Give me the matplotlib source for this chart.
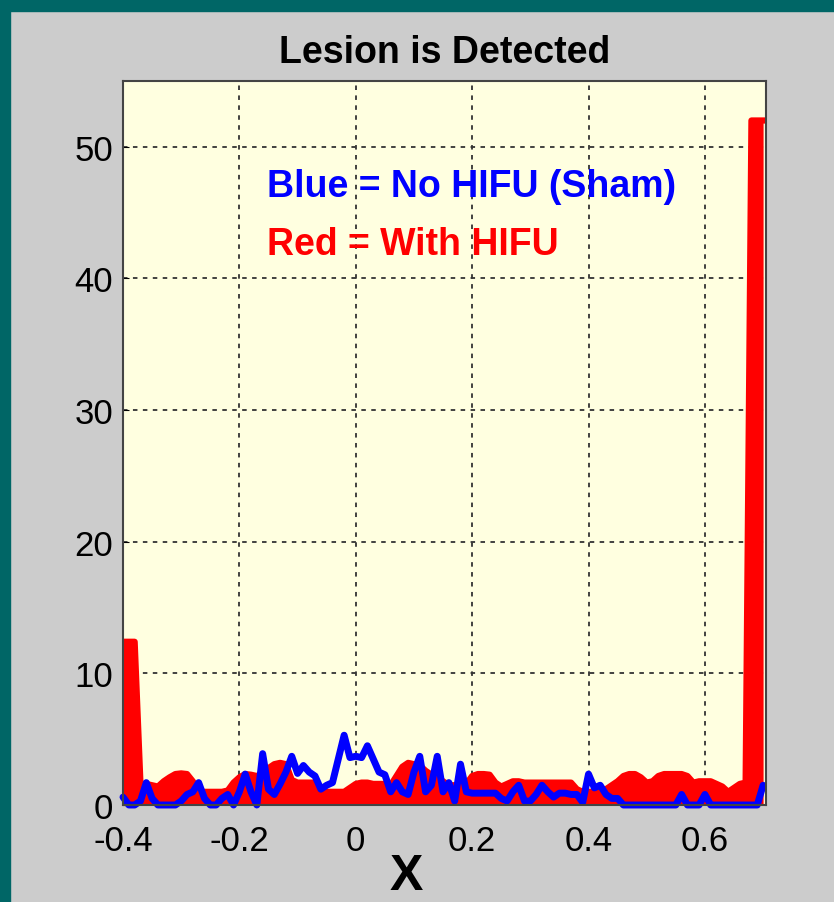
import matplotlib.pyplot as plt
import matplotlib.patches as mpatches
import numpy as np

# bin centres (step 0.01) from -0.40 to 0.70
x_bins = np.round(np.arange(-0.40, 0.705, 0.01), 2)

# With HIFU (red area)
red_counts = [
    12.4, 12.4, 12.4, 1.6, 1.6, 1.5, 1.4, 1.8, 2.1, 2.35,
    2.4, 2.35, 1.8, 1.0, 1.0, 1.0, 1.0, 1.0, 1.1, 1.7,
    2.1, 2.35, 2.3, 2.2, 2.4, 2.8, 3.1, 3.2, 3.1, 1.9,
    1.7, 1.7, 1.7, 1.7, 1.3, 1.0, 1.0, 1.0, 1.0, 1.3,
    1.6, 1.7, 1.7, 1.6, 1.6, 1.6, 1.5, 2.2, 2.9, 3.2,
    3.1, 3.0, 2.6, 2.3, 2.1, 1.8, 1.5, 1.5, 1.5, 1.6,
    2.2, 2.35, 2.35, 2.3, 1.7, 1.4, 1.6, 1.8, 1.8, 1.7,
    1.7, 1.7, 1.7, 1.7, 1.7, 1.7, 1.7, 1.7, 1.2, 1.0,
    1.0, 1.0, 1.0, 1.2, 1.5, 1.8, 2.2, 2.35, 2.35, 2.1,
    1.7, 1.8, 2.2, 2.35, 2.35, 2.35, 2.35, 2.2, 1.7, 1.8,
    1.8, 1.8, 1.6, 1.4, 1.0, 1.3, 1.6, 1.7, 52.0, 52.0,
    52.0,
]

# No HIFU / sham (blue line)
blue_counts = [
    0.6, 0.0, 0.0, 0.3, 1.7, 0.5, 0.0, 0.0, 0.0, 0.0,
    0.3, 0.8, 1.0, 1.7, 0.5, 0.0, 0.0, 0.5, 0.8, 0.0,
    1.0, 2.35, 1.0, 0.0, 3.9, 1.2, 0.8, 1.6, 2.5, 3.7,
    2.4, 3.0, 2.5, 2.2, 1.2, 1.5, 1.7, 3.5, 5.3, 3.6,
    3.7, 3.6, 4.5, 3.5, 2.5, 2.3, 1.0, 1.7, 1.0, 0.8,
    2.5, 3.7, 1.0, 1.5, 3.7, 1.0, 1.7, 0.3, 3.1, 1.0,
    0.9, 0.9, 0.9, 0.9, 0.9, 0.5, 0.3, 1.0, 1.5, 0.3,
    0.3, 0.8, 1.5, 1.0, 0.6, 0.9, 0.9, 0.8, 0.8, 0.2,
    2.35, 1.3, 1.5, 0.8, 0.5, 0.5, 0.0, 0.0, 0.0, 0.0,
    0.0, 0.0, 0.0, 0.0, 0.0, 0.0, 0.8, 0.0, 0.0, 0.0,
    0.8, 0.0, 0.0, 0.0, 0.0, 0.0, 0.0, 0.0, 0.0, 0.0,
    1.5,
]

x_ticks = [-0.4, -0.2, 0, 0.2, 0.4, 0.6]
x_tick_labels = ["-0.4", "-0.2", "0", "0.2", "0.4", "0.6"]
y_ticks = [0, 10, 20, 30, 40, 50]

plt.rcParams["font.family"] = ["Liberation Sans", "DejaVu Sans"]

fig = plt.figure(figsize=(8.34, 9.03), dpi=100, facecolor="#cccccc")

# teal frame on the left and top edge
fig.patches.append(mpatches.Rectangle((0, 0), 10 / 834, 1, transform=fig.transFigure,
                                      color="#006666", zorder=0))
fig.patches.append(mpatches.Rectangle((0, 1 - 12 / 903), 1, 12 / 903, transform=fig.transFigure,
                                      color="#006666", zorder=0))

ax = fig.add_axes([123 / 834, 1 - 806 / 903, 643 / 834, 724 / 903])
ax.set_facecolor("#ffffe0")

ax.fill_between(x_bins, red_counts, 0, color="red", lw=0)
ax.plot(x_bins, red_counts, color="red", lw=4.5, solid_joinstyle="round")
ax.plot(x_bins, blue_counts, color="blue", lw=5, solid_joinstyle="round",
        solid_capstyle="round", clip_on=False)

ax.set_xlim(-0.4, 0.705)
ax.set_ylim(0, 55)
ax.set_xticks(x_ticks)
ax.set_xticklabels(x_tick_labels)
ax.set_yticks(y_ticks)
ax.tick_params(direction="in", length=4, labelsize=25)
ax.tick_params(axis="x", pad=14)
ax.tick_params(axis="y", pad=7)
ax.grid(True, color="#333333", linestyle=(0, (2.5, 3)), linewidth=1.3)
ax.set_axisbelow(True)
for s in ax.spines.values():
    s.set_color("#444444")
    s.set_linewidth(1.5)

ax.set_title("Lesion is Detected", fontsize=27, fontweight="bold", pad=14)
ax.set_xlabel("X", fontsize=36, fontweight="bold")
ax.xaxis.set_label_coords(0.44, -0.066)

ax.text(-0.152, 47.0, "Blue = No HIFU (Sham)", color="blue", fontsize=27,
        fontweight="bold", va="center", ha="left")
ax.text(-0.152, 42.6, "Red = With HIFU", color="red", fontsize=27,
        fontweight="bold", va="center", ha="left")

fig.savefig("out.png", dpi=100, facecolor=fig.get_facecolor())
